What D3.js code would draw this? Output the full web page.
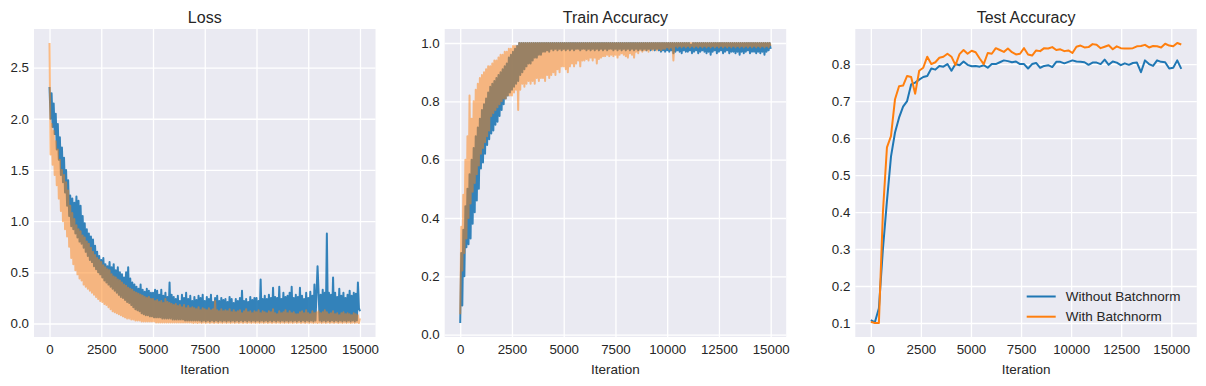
<!DOCTYPE html>
<html>
<head>
<meta charset="utf-8">
<script src="https://cdn.jsdelivr.net/npm/d3@7"></script>
<style>
body { margin: 0; background: #fff; }
svg text { font-family: "Liberation Sans", Arial, sans-serif; fill: #262626; }
</style>
</head>
<body>
<svg id="chart" width="1206" height="386"></svg>
<script>
// iterations between two logged training points, and between two test evaluations
var trainStep = 50;
var testStep = 15500 / 77;

var seriesNames = ["Without Batchnorm", "With Batchnorm"];
var panelTitles = ["Loss", "Train Accuracy", "Test Accuracy"];

var iterTicks = [0, 2500, 5000, 7500, 10000, 12500, 15000];
var lossTicks = [0, 0.5, 1.0, 1.5, 2.0, 2.5];
var trainTicks = [0, 0.2, 0.4, 0.6, 0.8, 1.0];
var testTicks = [0.1, 0.2, 0.3, 0.4, 0.5, 0.6, 0.7, 0.8];

// training loss, one value every 50 iterations (10 per row = 500 iterations)
var lossPlain = [
  2.31, 2.00, 2.25, 1.92, 2.15, 1.85, 2.05, 1.70, 1.95, 1.60,
  1.82, 1.45, 1.72, 1.38, 1.62, 1.28, 1.50, 1.15, 1.40, 1.05,
  1.25, 0.95, 1.22, 0.92, 1.18, 0.88, 1.24, 0.84, 1.20, 0.80,
  1.15, 0.78, 1.05, 0.74, 0.98, 0.70, 0.92, 0.66, 0.88, 0.62,
  0.85, 0.60, 0.82, 0.56, 0.76, 0.53, 0.70, 0.50, 0.66, 0.48,
  0.62, 0.45, 0.64, 0.42, 0.58, 0.40, 0.56, 0.38, 0.60, 0.36,
  0.55, 0.34, 0.58, 0.32, 0.52, 0.30, 0.55, 0.28, 0.50, 0.26,
  0.48, 0.25, 0.45, 0.23, 0.50, 0.21, 0.55, 0.20, 0.44, 0.18,
  0.40, 0.16, 0.38, 0.14, 0.36, 0.13, 0.34, 0.12, 0.38, 0.10,
  0.33, 0.09, 0.31, 0.08, 0.34, 0.08, 0.32, 0.07, 0.30, 0.07,
  0.30, 0.06, 0.33, 0.06, 0.32, 0.06, 0.28, 0.06, 0.33, 0.05,
  0.27, 0.05, 0.30, 0.05, 0.26, 0.05, 0.40, 0.05, 0.28, 0.04,
  0.26, 0.04, 0.24, 0.04, 0.27, 0.04, 0.22, 0.04, 0.28, 0.04,
  0.25, 0.03, 0.30, 0.03, 0.24, 0.03, 0.27, 0.03, 0.22, 0.03,
  0.26, 0.03, 0.23, 0.03, 0.27, 0.03, 0.25, 0.02, 0.28, 0.03,
  0.22, 0.02, 0.26, 0.03, 0.24, 0.02, 0.28, 0.03, 0.21, 0.02,
  0.25, 0.03, 0.27, 0.02, 0.22, 0.03, 0.25, 0.02, 0.23, 0.03,
  0.24, 0.02, 0.21, 0.03, 0.26, 0.02, 0.24, 0.03, 0.20, 0.02,
  0.24, 0.03, 0.22, 0.02, 0.25, 0.03, 0.32, 0.02, 0.22, 0.03,
  0.24, 0.02, 0.21, 0.03, 0.26, 0.02, 0.23, 0.03, 0.25, 0.02,
  0.25, 0.03, 0.22, 0.02, 0.43, 0.03, 0.24, 0.02, 0.27, 0.03,
  0.24, 0.02, 0.28, 0.03, 0.25, 0.02, 0.35, 0.03, 0.26, 0.02,
  0.25, 0.03, 0.36, 0.02, 0.24, 0.03, 0.30, 0.02, 0.26, 0.03,
  0.27, 0.02, 0.30, 0.03, 0.36, 0.02, 0.25, 0.03, 0.28, 0.02,
  0.26, 0.03, 0.35, 0.02, 0.27, 0.03, 0.24, 0.02, 0.30, 0.03,
  0.25, 0.02, 0.31, 0.03, 0.27, 0.02, 0.38, 0.03, 0.29, 0.56,
  0.30, 0.03, 0.28, 0.02, 0.33, 0.03, 0.30, 0.02, 0.88, 0.03,
  0.30, 0.02, 0.28, 0.03, 0.45, 0.02, 0.30, 0.03, 0.26, 0.02,
  0.34, 0.03, 0.27, 0.02, 0.30, 0.03, 0.25, 0.02, 0.28, 0.03,
  0.32, 0.02, 0.27, 0.03, 0.30, 0.02, 0.29, 0.03, 0.40, 0.15,
  0.12
];
var lossBN = [
  2.74, 1.65, 1.95, 1.55, 1.88, 1.45, 1.78, 1.35, 1.70, 1.22,
  1.60, 1.10, 1.50, 1.00, 1.45, 0.92, 1.38, 0.85, 1.30, 0.75,
  1.15, 0.64, 1.08, 0.58, 1.02, 0.52, 0.96, 0.48, 0.92, 0.44,
  0.90, 0.42, 0.86, 0.38, 0.84, 0.36, 0.80, 0.34, 0.78, 0.32,
  0.74, 0.30, 0.70, 0.28, 0.67, 0.26, 0.64, 0.24, 0.62, 0.22,
  0.60, 0.21, 0.57, 0.19, 0.55, 0.18, 0.53, 0.16, 0.52, 0.14,
  0.48, 0.12, 0.46, 0.11, 0.45, 0.10, 0.43, 0.09, 0.42, 0.08,
  0.40, 0.07, 0.38, 0.06, 0.37, 0.05, 0.35, 0.05, 0.34, 0.04,
  0.33, 0.04, 0.31, 0.03, 0.30, 0.03, 0.29, 0.03, 0.28, 0.02,
  0.27, 0.02, 0.26, 0.02, 0.25, 0.02, 0.26, 0.02, 0.24, 0.02,
  0.24, 0.02, 0.22, 0.01, 0.23, 0.01, 0.21, 0.01, 0.22, 0.01,
  0.20, 0.01, 0.24, 0.01, 0.21, 0.01, 0.20, 0.01, 0.19, 0.01,
  0.18, 0.01, 0.19, 0.01, 0.17, 0.01, 0.18, 0.01, 0.16, 0.01,
  0.18, 0.01, 0.15, 0.01, 0.17, 0.01, 0.15, 0.01, 0.16, 0.005,
  0.15, 0.01, 0.14, 0.005, 0.16, 0.01, 0.13, 0.005, 0.15, 0.01,
  0.14, 0.005, 0.13, 0.01, 0.15, 0.005, 0.13, 0.01, 0.14, 0.005,
  0.22, 0.01, 0.13, 0.005, 0.12, 0.01, 0.14, 0.005, 0.12, 0.01,
  0.13, 0.005, 0.12, 0.01, 0.14, 0.005, 0.11, 0.01, 0.13, 0.005,
  0.11, 0.01, 0.12, 0.005, 0.13, 0.01, 0.10, 0.005, 0.12, 0.01,
  0.14, 0.005, 0.11, 0.01, 0.12, 0.005, 0.10, 0.01, 0.12, 0.005,
  0.11, 0.01, 0.13, 0.005, 0.10, 0.01, 0.12, 0.005, 0.11, 0.01,
  0.10, 0.005, 0.12, 0.01, 0.11, 0.005, 0.14, 0.01, 0.10, 0.005,
  0.09, 0.01, 0.12, 0.005, 0.10, 0.01, 0.11, 0.005, 0.13, 0.01,
  0.10, 0.005, 0.12, 0.01, 0.10, 0.005, 0.11, 0.01, 0.09, 0.005,
  0.09, 0.01, 0.11, 0.005, 0.12, 0.01, 0.10, 0.005, 0.13, 0.01,
  0.10, 0.005, 0.09, 0.01, 0.12, 0.005, 0.10, 0.01, 0.11, 0.005,
  0.12, 0.01, 0.10, 0.005, 0.11, 0.01, 0.13, 0.005, 0.11, 0.01,
  0.09, 0.005, 0.10, 0.01, 0.12, 0.005, 0.09, 0.01, 0.10, 0.005,
  0.08, 0.01, 0.10, 0.005, 0.11, 0.01, 0.09, 0.005, 0.10, 0.01,
  0.09, 0.005, 0.08, 0.01, 0.10, 0.005, 0.09, 0.01, 0.08, 0.005,
  0.05
];

// training accuracy, one value every 50 iterations
var trainPlain = [
  0.04, 0.28, 0.10, 0.36, 0.20, 0.44, 0.30, 0.50, 0.31, 0.55,
  0.33, 0.60, 0.38, 0.64, 0.42, 0.68, 0.46, 0.71, 0.50, 0.74,
  0.57, 0.77, 0.59, 0.79, 0.62, 0.81, 0.65, 0.83, 0.67, 0.85,
  0.69, 0.86, 0.70, 0.87, 0.72, 0.88, 0.73, 0.89, 0.75, 0.90,
  0.77, 0.91, 0.79, 0.92, 0.81, 0.93, 0.82, 0.95, 0.83, 0.96,
  0.84, 0.97, 0.85, 0.98, 0.86, 0.99, 0.87, 1.00, 0.89, 1.00,
  0.90, 1.00, 0.91, 1.00, 0.92, 1.00, 0.93, 1.00, 0.93, 1.00,
  0.94, 1.00, 0.95, 1.00, 0.95, 1.00, 0.96, 1.00, 0.96, 1.00,
  0.97, 1.00, 0.97, 1.00, 0.975, 1.00, 0.97, 1.00, 0.98, 1.00,
  0.975, 1.00, 0.98, 1.00, 0.975, 1.00, 0.98, 1.00, 0.975, 1.00,
  0.98, 1.00, 0.975, 1.00, 0.98, 1.00, 0.975, 1.00, 0.98, 1.00,
  0.975, 1.00, 0.98, 1.00, 0.98, 1.00, 0.975, 1.00, 0.98, 1.00,
  0.98, 1.00, 0.975, 1.00, 0.98, 1.00, 0.975, 1.00, 0.98, 1.00,
  0.975, 1.00, 0.98, 1.00, 0.975, 1.00, 0.98, 1.00, 0.975, 1.00,
  0.98, 1.00, 0.975, 1.00, 0.98, 1.00, 0.98, 1.00, 0.975, 1.00,
  0.98, 1.00, 0.975, 1.00, 0.98, 1.00, 0.975, 1.00, 0.98, 1.00,
  0.975, 1.00, 0.98, 1.00, 0.975, 1.00, 0.98, 1.00, 0.975, 1.00,
  0.98, 1.00, 0.975, 1.00, 0.98, 1.00, 0.975, 1.00, 0.98, 1.00,
  0.975, 1.00, 0.98, 1.00, 0.975, 1.00, 0.98, 1.00, 0.975, 1.00,
  0.98, 1.00, 0.975, 1.00, 0.97, 1.00, 0.975, 1.00, 0.97, 1.00,
  0.975, 1.00, 0.97, 1.00, 0.975, 1.00, 0.965, 1.00, 0.97, 1.00,
  0.975, 1.00, 0.97, 1.00, 0.965, 1.00, 0.975, 1.00, 0.97, 1.00,
  0.97, 1.00, 0.975, 0.995, 0.965, 1.00, 0.97, 1.00, 0.975, 1.00,
  0.965, 1.00, 0.97, 1.00, 0.975, 1.00, 0.97, 1.00, 0.965, 1.00,
  0.97, 1.00, 0.96, 1.00, 0.97, 1.00, 0.975, 1.00, 0.965, 1.00,
  0.97, 1.00, 0.975, 1.00, 0.965, 1.00, 0.97, 1.00, 0.975, 1.00,
  0.965, 1.00, 0.97, 1.00, 0.97, 1.00, 0.965, 1.00, 0.97, 1.00,
  0.96, 1.00, 0.97, 1.00, 0.965, 1.00, 0.97, 1.00, 0.975, 1.00,
  0.965, 1.00, 0.97, 1.00, 0.97, 1.00, 0.965, 1.00, 0.97, 1.00,
  0.965, 1.00, 0.97, 1.00, 0.96, 1.00, 0.97, 1.00, 0.975, 1.00,
  0.98
];
var trainBN = [
  0.07, 0.37, 0.22, 0.48, 0.28, 0.60, 0.33, 0.68, 0.40, 0.82,
  0.45, 0.74, 0.49, 0.80, 0.52, 0.84, 0.55, 0.86, 0.58, 0.88,
  0.62, 0.89, 0.64, 0.90, 0.66, 0.91, 0.68, 0.92, 0.70, 0.92,
  0.75, 0.93, 0.76, 0.94, 0.77, 0.94, 0.78, 0.95, 0.79, 0.96,
  0.80, 0.96, 0.81, 0.97, 0.81, 0.97, 0.82, 0.98, 0.82, 0.98,
  0.82, 0.99, 0.83, 0.99, 0.84, 0.99, 0.77, 1.00, 0.84, 1.00,
  0.86, 1.00, 0.85, 1.00, 0.86, 1.00, 0.87, 1.00, 0.86, 1.00,
  0.87, 1.00, 0.86, 1.00, 0.88, 1.00, 0.87, 1.00, 0.88, 1.00,
  0.88, 1.00, 0.87, 1.00, 0.89, 1.00, 0.88, 1.00, 0.89, 1.00,
  0.90, 1.00, 0.89, 1.00, 0.91, 1.00, 0.90, 1.00, 0.92, 1.00,
  0.92, 1.00, 0.91, 1.00, 0.90, 1.00, 0.92, 1.00, 0.93, 1.00,
  0.92, 1.00, 0.93, 1.00, 0.94, 1.00, 0.92, 1.00, 0.94, 1.00,
  0.94, 1.00, 0.945, 1.00, 0.94, 1.00, 0.95, 1.00, 0.94, 1.00,
  0.95, 1.00, 0.93, 1.00, 0.945, 1.00, 0.95, 1.00, 0.955, 1.00,
  0.955, 1.00, 0.96, 1.00, 0.955, 1.00, 0.96, 1.00, 0.955, 1.00,
  0.96, 1.00, 0.95, 1.00, 0.96, 1.00, 0.965, 1.00, 0.96, 1.00,
  0.955, 1.00, 0.95, 1.00, 0.965, 1.00, 0.96, 1.00, 0.95, 1.00,
  0.97, 1.00, 0.965, 1.00, 0.975, 1.00, 0.97, 1.00, 0.975, 1.00,
  0.975, 1.00, 0.97, 1.00, 0.98, 1.00, 0.975, 1.00, 0.98, 1.00,
  0.975, 1.00, 0.98, 1.00, 0.975, 1.00, 0.98, 1.00, 0.98, 1.00,
  0.985, 1.00, 0.98, 1.00, 0.985, 1.00, 0.94, 1.00, 0.99, 1.00,
  0.985, 1.00, 0.99, 1.00, 0.985, 1.00, 0.99, 1.00, 0.985, 1.00,
  0.99, 1.00, 0.985, 1.00, 0.99, 1.00, 0.985, 1.00, 0.99, 1.00,
  0.985, 1.00, 0.99, 1.00, 0.985, 1.00, 0.99, 1.00, 0.985, 1.00,
  0.99, 1.00, 0.985, 1.00, 0.99, 1.00, 0.985, 1.00, 0.99, 1.00,
  0.985, 1.00, 0.99, 1.00, 0.985, 1.00, 0.99, 1.00, 0.985, 1.00,
  0.99, 1.00, 0.985, 1.00, 0.99, 1.00, 0.985, 1.00, 0.99, 1.00,
  0.985, 1.00, 0.99, 1.00, 0.985, 1.00, 0.99, 1.00, 0.985, 1.00,
  0.99, 1.00, 0.985, 1.00, 0.99, 1.00, 0.985, 1.00, 0.99, 1.00,
  0.985, 1.00, 0.99, 1.00, 0.985, 1.00, 0.99, 1.00, 0.985, 1.00,
  0.99
];

// test accuracy, one value per evaluation
var testPlain = [
  0.108, 0.102, 0.14, 0.30, 0.43, 0.55, 0.615, 0.655, 0.685, 0.70,
  0.745, 0.75, 0.758, 0.765, 0.768, 0.788, 0.785, 0.795, 0.793, 0.80,
  0.782, 0.80, 0.797, 0.807, 0.798, 0.794, 0.795, 0.793, 0.797, 0.79,
  0.80, 0.80, 0.805, 0.81, 0.808, 0.805, 0.807, 0.80, 0.80, 0.788,
  0.80, 0.803, 0.79, 0.795, 0.797, 0.792, 0.806, 0.806, 0.802, 0.806,
  0.81, 0.807, 0.806, 0.805, 0.798, 0.804, 0.804, 0.80, 0.812, 0.798,
  0.807, 0.804, 0.797, 0.802, 0.798, 0.803, 0.804, 0.778, 0.81, 0.80,
  0.795, 0.81, 0.806, 0.805, 0.788, 0.79, 0.81, 0.787
];
var testBN = [
  0.103, 0.10, 0.10, 0.40, 0.575, 0.605, 0.705, 0.74, 0.742, 0.768,
  0.765, 0.72, 0.782, 0.79, 0.82, 0.80, 0.805, 0.817, 0.82, 0.828,
  0.82, 0.797, 0.827, 0.838, 0.828, 0.836, 0.832, 0.815, 0.80, 0.83,
  0.828, 0.843, 0.838, 0.833, 0.842, 0.832, 0.826, 0.828, 0.843, 0.826,
  0.823, 0.837, 0.835, 0.843, 0.842, 0.846, 0.838, 0.84, 0.835, 0.837,
  0.83, 0.847, 0.85, 0.845, 0.846, 0.854, 0.852, 0.843, 0.847, 0.851,
  0.84, 0.848, 0.843, 0.842, 0.842, 0.843, 0.848, 0.849, 0.852, 0.845,
  0.849, 0.848, 0.845, 0.855, 0.85, 0.848, 0.857, 0.853
];

var colors = ["#1f77b4", "#ff7f0e"];
var panelTop = 29, panelHeight = 308, panelWidth = 341.5;
var panelLefts = [34, 444.7, 855.3];

var svg = d3.select("#chart");

function drawPanel(index, seriesList, step, yTicks, opacities) {
  var g = svg.append("g")
    .attr("transform", "translate(" + panelLefts[index] + "," + panelTop + ")");

  g.append("rect")
    .attr("width", panelWidth)
    .attr("height", panelHeight)
    .attr("fill", "#eaeaf2");

  // matplotlib style 5% margins on both axes
  var xMax = (d3.max(seriesList, function(s) { return s.length; }) - 1) * step;
  var x = d3.scaleLinear()
    .domain([-0.05 * xMax, 1.05 * xMax])
    .range([0, panelWidth]);

  var ext = d3.extent(d3.merge(seriesList));
  var pad = 0.05 * (ext[1] - ext[0]);
  var y = d3.scaleLinear()
    .domain([ext[0] - pad, ext[1] + pad])
    .range([panelHeight, 0]);

  // grid lines
  g.append("g")
    .attr("transform", "translate(0," + panelHeight + ")")
    .call(d3.axisBottom(x).tickValues(iterTicks).tickSize(-panelHeight).tickFormat(""))
    .call(function(a) { a.select(".domain").remove(); })
    .selectAll("line").attr("stroke", "#fff").attr("stroke-width", 1.3);

  g.append("g")
    .call(d3.axisLeft(y).tickValues(yTicks).tickSize(-panelWidth).tickFormat(""))
    .call(function(a) { a.select(".domain").remove(); })
    .selectAll("line").attr("stroke", "#fff").attr("stroke-width", 1.3);

  // tick labels
  var xAxis = g.append("g")
    .attr("transform", "translate(0," + panelHeight + ")")
    .call(d3.axisBottom(x).tickValues(iterTicks).tickSize(0).tickPadding(8).tickFormat(d3.format("d")));
  xAxis.select(".domain").remove();
  xAxis.selectAll("text").style("font-size", "13.3px").attr("fill", "#262626");

  var yAxis = g.append("g")
    .call(d3.axisLeft(y).tickValues(yTicks).tickSize(0).tickPadding(5).tickFormat(d3.format(".1f")));
  yAxis.select(".domain").remove();
  yAxis.selectAll("text").style("font-size", "13.3px").attr("fill", "#262626");

  // lines
  seriesList.forEach(function(values, k) {
    var line = d3.line()
      .x(function(d, i) { return x(i * step); })
      .y(function(d) { return y(d); });
    g.append("path")
      .datum(values)
      .attr("d", line)
      .attr("fill", "none")
      .attr("stroke", colors[k])
      .attr("stroke-opacity", opacities[k])
      .attr("stroke-width", 2)
      .attr("stroke-linejoin", "round");
  });

  g.append("text")
    .attr("x", panelWidth / 2)
    .attr("y", -6.5)
    .attr("text-anchor", "middle")
    .style("font-size", "16px")
    .text(panelTitles[index]);

  g.append("text")
    .attr("x", panelWidth / 2)
    .attr("y", 374 - panelTop)
    .attr("text-anchor", "middle")
    .style("font-size", "13.5px")
    .text("Iteration");

  return g;
}

drawPanel(0, [lossPlain, lossBN], trainStep, lossTicks, [0.9, 0.5]);
drawPanel(1, [trainPlain, trainBN], trainStep, trainTicks, [0.9, 0.5]);
var testPanel = drawPanel(2, [testPlain, testBN], testStep, testTicks, [1, 1]);

// legend, lower right of the test panel
var legend = testPanel.append("g")
  .attr("transform", "translate(171.4,267.5)");

seriesNames.forEach(function(name, k) {
  legend.append("line")
    .attr("x1", 0).attr("x2", 29)
    .attr("y1", k * 20.2).attr("y2", k * 20.2)
    .attr("stroke", colors[k])
    .attr("stroke-width", 2);
  legend.append("text")
    .attr("x", 39)
    .attr("y", k * 20.2)
    .attr("dy", "0.35em")
    .style("font-size", "13.5px")
    .text(name);
});
</script>
</body>
</html>
